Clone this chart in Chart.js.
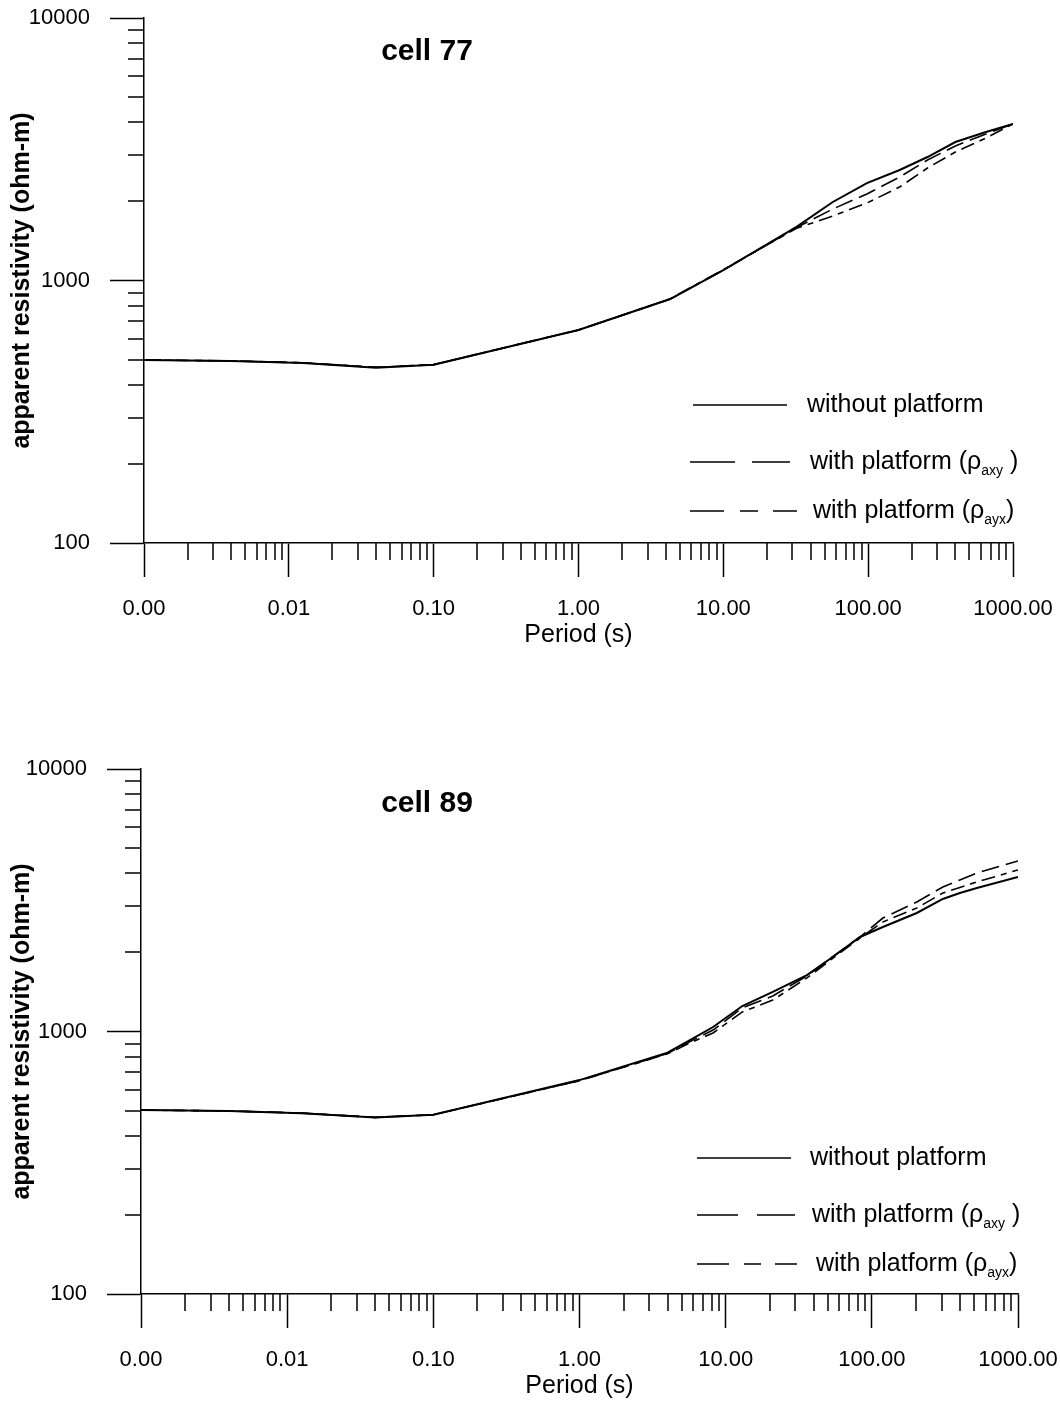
<!DOCTYPE html>
<html>
<head>
<meta charset="utf-8">
<title>Apparent resistivity, cell 77 and cell 89</title>
<script src="https://cdn.jsdelivr.net/npm/chart.js@4.4.1/dist/chart.umd.min.js"></script>
<style>
  html, body { margin: 0; padding: 0; background: #fff; overflow: hidden; }
  body { width: 1060px; height: 1403px; position: relative; font-family: 'Liberation Sans', Arial, sans-serif; color: #000; }
  canvas { position: absolute; left: 0; }
  .cell-title { position: absolute; font-weight: bold; font-size: 30px; line-height: 30px; transform: translateX(-50%); white-space: nowrap; }
  .leg-line { position: absolute; }
  .leg-text { position: absolute; font-size: 25px; line-height: 30px; white-space: nowrap; }
  .leg-text sub { font-size: 14px; vertical-align: -6px; }
</style>
</head>
<body>

<canvas id="chart77" width="1060" height="653" style="top:0px"></canvas>
<canvas id="chart89" width="1060" height="653" style="top:751px"></canvas>

<div class="cell-title" style="left:427px; top:35px">cell 77</div>
<div class="cell-title" style="left:427px; top:787px">cell 89</div>

<!-- legend, top panel -->
<svg class="leg-line" style="left:690px; top:395px" width="110" height="20"><line x1="3" y1="10" x2="97" y2="10" stroke="#000" stroke-width="1.5"/></svg>
<div class="leg-text" style="left:807px; top:388px">without platform</div>
<svg class="leg-line" style="left:690px; top:452px" width="110" height="20"><line x1="0" y1="10" x2="100" y2="10" stroke="#000" stroke-width="1.5" stroke-dasharray="45 17 38"/></svg>
<div class="leg-text" style="left:810px; top:445px">with platform (ρ<sub>axy</sub> )</div>
<svg class="leg-line" style="left:690px; top:501px" width="110" height="20"><line x1="0" y1="10" x2="107" y2="10" stroke="#000" stroke-width="1.5" stroke-dasharray="34 16 18 15 24"/></svg>
<div class="leg-text" style="left:813px; top:494px">with platform (ρ<sub>ayx</sub>)</div>

<!-- legend, bottom panel -->
<svg class="leg-line" style="left:697px; top:1148px" width="110" height="20"><line x1="0" y1="10" x2="94" y2="10" stroke="#000" stroke-width="1.5"/></svg>
<div class="leg-text" style="left:810px; top:1141px">without platform</div>
<svg class="leg-line" style="left:697px; top:1205px" width="110" height="20"><line x1="0" y1="10" x2="98" y2="10" stroke="#000" stroke-width="1.5" stroke-dasharray="41 19 38"/></svg>
<div class="leg-text" style="left:812px; top:1198px">with platform (ρ<sub>axy</sub> )</div>
<svg class="leg-line" style="left:697px; top:1254px" width="110" height="20"><line x1="0" y1="10" x2="100" y2="10" stroke="#000" stroke-width="1.5" stroke-dasharray="32 15 17 14 22"/></svg>
<div class="leg-text" style="left:816px; top:1247px">with platform (ρ<sub>ayx</sub>)</div>

<script>
// Period (s) sampled along the curves, cell 77
const periods77 = [0.001, 0.004, 0.0125, 0.04, 0.1, 1, 4.3, 10, 32, 57, 98, 165, 257, 400, 650, 1000];
const rho77Without = [498, 494, 485, 465, 478, 648, 850, 1096, 1600, 1991, 2350, 2636, 2954, 3370, 3680, 3950];
const rho77Axy = [498, 494, 486, 467, 478, 648, 850, 1096, 1590, 1872, 2136, 2479, 2878, 3255, 3614, 3950];
const rho77Ayx = [498, 494, 486, 467, 478, 648, 852, 1100, 1580, 1761, 1973, 2271, 2683, 3087, 3490, 3950];

// Period (s) sampled along the curves, cell 89
const periods89 = [0.001, 0.004, 0.0125, 0.04, 0.1, 1, 4, 5.7, 8.2, 13, 21, 36, 54, 83, 119, 203, 306, 400, 523, 1000];
const rho89Without = [502, 498, 488, 470, 482, 653, 830, 928, 1040, 1250, 1415, 1641, 1923, 2291, 2500, 2828, 3198, 3370, 3521, 3880];
const rho89Axy = [502, 498, 489, 471, 482, 650, 825, 915, 1013, 1230, 1366, 1628, 1930, 2291, 2706, 3114, 3552, 3780, 4015, 4466];
const rho89Ayx = [502, 498, 489, 471, 482, 650, 822, 905, 987, 1187, 1318, 1600, 1900, 2271, 2614, 2954, 3370, 3540, 3711, 4125];

// Axis decades (labelled ticks)
const xMajor = [0.001, 0.01, 0.1, 1, 10, 100, 1000];
const yMajor = [100, 1000, 10000];

const FONT = "'Liberation Sans', Arial, sans-serif";

// minor ticks 2..9 inside every decade
function minorsOf(majors) {
  const out = [];
  for (let i = 0; i < majors.length - 1; i++) {
    for (let m = 2; m <= 9; m++) out.push(+(majors[i] * m).toPrecision(6));
  }
  return out;
}
const xMinor = minorsOf(xMajor);
const yMinor = minorsOf(yMajor);
const xTicks = xMajor.concat(xMinor).sort((a, b) => a - b);
const yTicks = yMajor.concat(yMinor).sort((a, b) => a - b);

function isDecade(v) {
  const l = Math.log10(v);
  return Math.abs(l - Math.round(l)) < 1e-6;
}

// Short minor ticks, drawn against the library's own scales
const minorTickPlugin = {
  id: 'minorTicks',
  afterDraw(chart) {
    const ctx = chart.ctx;
    const xs = chart.scales.x;
    const ys = chart.scales.y;
    ctx.save();
    ctx.strokeStyle = '#000';
    ctx.lineWidth = 1.5;
    ctx.beginPath();
    xMinor.forEach(v => {
      const px = Math.round(xs.getPixelForValue(v));
      ctx.moveTo(px, xs.top);
      ctx.lineTo(px, xs.top + 17);
    });
    yMinor.forEach(v => {
      const py = Math.round(ys.getPixelForValue(v));
      ctx.moveTo(ys.right, py);
      ctx.lineTo(ys.right - 16, py);
    });
    ctx.stroke();
    ctx.restore();
  }
};

function toPoints(periods, values) {
  return periods.map((p, i) => ({ x: p, y: values[i] }));
}

function createResistivityChart(canvasId, periods, without, axy, ayx, leftWidth, rightPad) {
  const ctx = document.getElementById(canvasId).getContext('2d');
  return new Chart(ctx, {
    type: 'line',
    data: {
      datasets: [
        {
          label: 'without platform',
          data: toPoints(periods, without),
          borderColor: '#000',
          borderWidth: 2,
        },
        {
          label: 'with platform (axy)',
          data: toPoints(periods, axy),
          borderColor: '#000',
          borderWidth: 1.6,
          borderDash: [18, 7],
        },
        {
          label: 'with platform (ayx)',
          data: toPoints(periods, ayx),
          borderColor: '#000',
          borderWidth: 1.6,
          borderDash: [14, 6, 6, 6],
        },
      ],
    },
    options: {
      responsive: false,
      animation: false,
      layout: { padding: { top: 18, right: rightPad, left: 0, bottom: 0 } },
      elements: { point: { radius: 0 }, line: { tension: 0 } },
      plugins: {
        legend: { display: false },
        tooltip: { enabled: false },
      },
      scales: {
        x: {
          type: 'logarithmic',
          min: 0.001,
          max: 1000,
          afterBuildTicks: s => { s.ticks = xTicks.map(v => ({ value: v })); },
          afterFit: s => {
            s.height = 110;
            s.paddingLeft = 0;
            s.paddingRight = 0;
          },
          border: { display: true, color: '#000', width: 1.5 },
          grid: {
            drawOnChartArea: false,
            drawTicks: true,
            tickLength: 34,
            tickWidth: 1.5,
            tickColor: c => (c.tick && isDecade(c.tick.value)) ? '#000' : 'rgba(0,0,0,0)',
          },
          ticks: {
            autoSkip: false,
            maxRotation: 0,
            padding: 19,
            color: '#000',
            font: { family: FONT, size: 22 },
            callback: v => isDecade(v) ? v.toFixed(2) : '',
          },
          title: {
            display: true,
            text: 'Period (s)',
            color: '#000',
            font: { family: FONT, size: 25 },
            padding: { top: 0, bottom: 3 },
          },
        },
        y: {
          type: 'logarithmic',
          min: 100,
          max: 10000,
          afterBuildTicks: s => { s.ticks = yTicks.map(v => ({ value: v })); },
          afterFit: s => {
            s.width = leftWidth;
            s.paddingTop = 0;
            s.paddingBottom = 0;
          },
          border: { display: true, color: '#000', width: 1.5 },
          grid: {
            drawOnChartArea: false,
            drawTicks: true,
            tickLength: 34,
            tickWidth: 1.5,
            tickColor: c => (c.tick && isDecade(c.tick.value)) ? '#000' : 'rgba(0,0,0,0)',
          },
          ticks: {
            autoSkip: false,
            padding: 20,
            color: '#000',
            font: { family: FONT, size: 22 },
            callback: v => isDecade(v) ? String(Math.round(v)) : '',
          },
          title: {
            display: true,
            text: 'apparent resistivity (ohm-m)',
            color: '#000',
            font: { family: FONT, size: 25, weight: 'bold' },
            padding: { top: 7, bottom: 0 },
          },
        },
      },
    },
    plugins: [minorTickPlugin],
  });
}

createResistivityChart('chart77', periods77, rho77Without, rho77Axy, rho77Ayx, 144, 47);
createResistivityChart('chart89', periods89, rho89Without, rho89Axy, rho89Ayx, 141, 42);
</script>
</body>
</html>
